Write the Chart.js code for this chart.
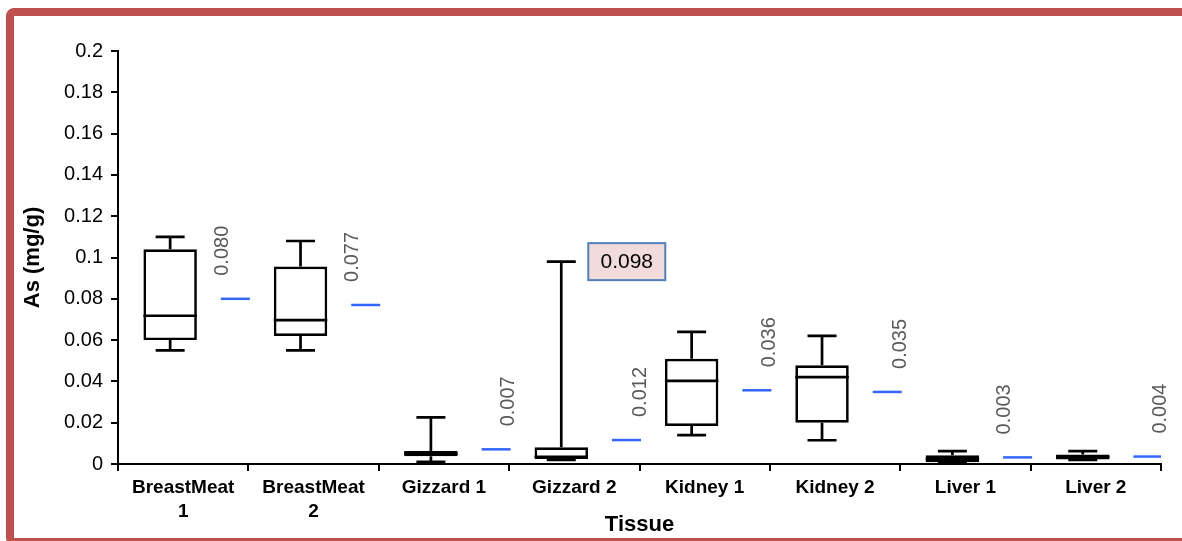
<!DOCTYPE html>
<html>
<head>
<meta charset="utf-8">
<title>As (mg/g) by tissue</title>
<script src="https://cdn.jsdelivr.net/npm/chart.js@4.4.0/dist/chart.umd.min.js"></script>
<style>
    html, body { margin: 0; padding: 0; background: #fff; overflow: hidden; }
    #wrap { position: relative; width: 1182px; height: 541px; overflow: hidden; }
    #frame {
        position: absolute; left: 6px; top: 8px; width: 1200px; height: 538px;
        border: 8px solid #c0504d; border-radius: 8px; box-sizing: border-box;
        pointer-events: none;
    }
</style>
</head>
<body>
<div id="wrap">
    <canvas id="as-chart" width="1182" height="541"></canvas>
    <div id="frame"></div>
</div>
<script>
// Box plot values (mg/g)
const tissues = [['BreastMeat', '1'], ['BreastMeat', '2'], 'Gizzard 1', 'Gizzard 2', 'Kidney 1', 'Kidney 2', 'Liver 1', 'Liver 2'];
const minVals    = [0.055, 0.055, 0.001, 0.002, 0.014, 0.0115, 0.0006, 0.002];
const q1Vals     = [0.060, 0.062, 0.0038, 0.0024, 0.0184, 0.020, 0.0008, 0.0022];
const medianVals = [0.0718, 0.0697, 0.005, 0.0035, 0.0403, 0.0421, 0.0025, 0.0035];
const q3Vals     = [0.104, 0.0956, 0.0063, 0.0081, 0.051, 0.0478, 0.0042, 0.0046];
const maxVals    = [0.110, 0.108, 0.0226, 0.098, 0.064, 0.062, 0.0062, 0.0062];
const meanVals   = [0.080, 0.077, 0.0071, 0.0116, 0.0357, 0.0349, 0.0032, 0.0036];

// Y axis: 0 .. 0.2 in steps of 0.02
const yMin = 0;
const yMax = 0.2;
const yStep = 0.02;

// Highlighted maximum (Gizzard 2)
const calloutIndex = 3;
const calloutText = '0.098';

const FONT = "'Liberation Sans', Arial, sans-serif";
const LINE_W = 2.7;

// Box sits a bit left of the category centre, the mean dash near the right edge
const BOX_POS = 0.4;
const MEAN_POS = 0.9;
// Mean label nudges (px), as placed in the original
const labelShift = [-13, -13, 12, 14, 13, 13, -13, 13];

const boxPlotPlugin = {
    id: 'boxPlot',
    beforeDatasetsDraw(chart) {
        const ctx = chart.ctx;
        const xs = chart.scales.xv;
        const ys = chart.scales.y;
        ctx.save();
        ctx.strokeStyle = '#000';
        ctx.lineWidth = LINE_W;
        tissues.forEach((t, i) => {
            const cx = xs.getPixelForValue(i + BOX_POS);
            const capHalf = 14.5;
            const yMaxPx = ys.getPixelForValue(maxVals[i]);
            const yMinPx = ys.getPixelForValue(minVals[i]);
            ctx.beginPath();
            ctx.moveTo(cx, yMaxPx);
            ctx.lineTo(cx, ys.getPixelForValue(q3Vals[i]));
            ctx.moveTo(cx, ys.getPixelForValue(q1Vals[i]));
            ctx.lineTo(cx, yMinPx);
            ctx.moveTo(cx - capHalf, yMaxPx);
            ctx.lineTo(cx + capHalf, yMaxPx);
            ctx.moveTo(cx - capHalf, yMinPx);
            ctx.lineTo(cx + capHalf, yMinPx);
            ctx.stroke();
        });
        ctx.restore();
    },
    afterDatasetsDraw(chart) {
        const ctx = chart.ctx;
        const xs = chart.scales.xv;
        const ys = chart.scales.y;
        const unit = xs.getPixelForValue(1) - xs.getPixelForValue(0);
        ctx.save();

        // Medians
        ctx.strokeStyle = '#000';
        ctx.lineWidth = LINE_W;
        tissues.forEach((t, i) => {
            const cx = xs.getPixelForValue(i + BOX_POS);
            const half = unit * 0.41 / 2;
            const y = ys.getPixelForValue(medianVals[i]);
            ctx.beginPath();
            ctx.moveTo(cx - half, y);
            ctx.lineTo(cx + half, y);
            ctx.stroke();
        });

        // Rotated mean labels
        ctx.fillStyle = '#595959';
        ctx.font = '20px ' + FONT;
        ctx.textAlign = 'left';
        ctx.textBaseline = 'middle';
        meanVals.forEach((m, i) => {
            const x = xs.getPixelForValue(i + MEAN_POS) + labelShift[i];
            const y = ys.getPixelForValue(m) - 23;
            ctx.save();
            ctx.translate(x, y);
            ctx.rotate(-Math.PI / 2);
            ctx.fillText(m.toFixed(3), 0, 0);
            ctx.restore();
        });

        // Callout for the Gizzard 2 maximum
        const bx = xs.getPixelForValue(calloutIndex + BOX_POS) + 27;
        const by = ys.getPixelForValue(maxVals[calloutIndex]) - 18.5;
        ctx.fillStyle = '#f2dcdb';
        ctx.fillRect(bx, by, 77, 37);
        ctx.strokeStyle = '#4f81bd';
        ctx.lineWidth = 2;
        ctx.strokeRect(bx, by, 77, 37);
        ctx.fillStyle = '#000';
        ctx.font = '21px ' + FONT;
        ctx.textAlign = 'center';
        ctx.fillText(calloutText, bx + 38.5, by + 19);

        ctx.restore();
    }
};

const ctx = document.getElementById('as-chart').getContext('2d');
const asChart = new Chart(ctx, {
    type: 'bar',
    data: {
        labels: tissues,
        datasets: [
            {
                type: 'bar',
                label: 'IQR',
                xAxisID: 'xv',
                data: tissues.map((t, i) => ({ x: i + BOX_POS, y: [q1Vals[i], q3Vals[i]] })),
                backgroundColor: '#fff',
                borderColor: '#000',
                borderWidth: LINE_W,
                borderSkipped: false,
                barPercentage: 0.41,
                categoryPercentage: 1
            },
            {
                type: 'scatter',
                label: 'Mean',
                xAxisID: 'xv',
                data: meanVals.map((m, i) => ({ x: i + MEAN_POS, y: m })),
                pointStyle: 'line',
                pointRadius: 14.5,
                borderColor: '#3366ff',
                borderWidth: 2.5
            }
        ]
    },
    options: {
        responsive: false,
        animation: false,
        devicePixelRatio: 1,
        layout: { padding: { left: 0, right: 21, top: 51, bottom: 0 } },
        plugins: {
            legend: { display: false },
            tooltip: { enabled: false }
        },
        scales: {
            x: {
                type: 'category',
                labels: tissues,
                offset: true,
                grid: { offset: true, drawOnChartArea: false, color: '#000', lineWidth: 2, tickLength: 7 },
                border: { color: '#000', width: 2 },
                ticks: {
                    color: '#000',
                    font: { family: FONT, size: 19, weight: 'bold', lineHeight: 1.25 },
                    maxRotation: 0,
                    autoSkip: false,
                    padding: 5
                },
                title: {
                    display: true,
                    text: 'Tissue',
                    color: '#000',
                    font: { family: FONT, size: 22, weight: 'bold' },
                    padding: { top: 0, bottom: 3 }
                },
                afterFit(scale) { scale.height = 77; }
            },
            xv: {
                type: 'linear',
                display: false,
                offset: false,
                bounds: 'ticks',
                min: 0,
                max: tissues.length
            },
            y: {
                min: yMin,
                max: yMax,
                ticks: {
                    stepSize: yStep,
                    color: '#000',
                    font: { family: FONT, size: 20 },
                    padding: 8,
                    callback: v => String(Number(v.toFixed(2)))
                },
                grid: { drawOnChartArea: false, color: '#000', lineWidth: 2, tickLength: 7 },
                border: { color: '#000', width: 2 },
                title: {
                    display: true,
                    text: 'As (mg/g)',
                    color: '#000',
                    font: { family: FONT, size: 22, weight: 'bold' },
                    padding: { top: 20, bottom: 0 }
                },
                afterFit(scale) { scale.width = 118; }
            }
        }
    },
    plugins: [boxPlotPlugin]
});
</script>
</body>
</html>
